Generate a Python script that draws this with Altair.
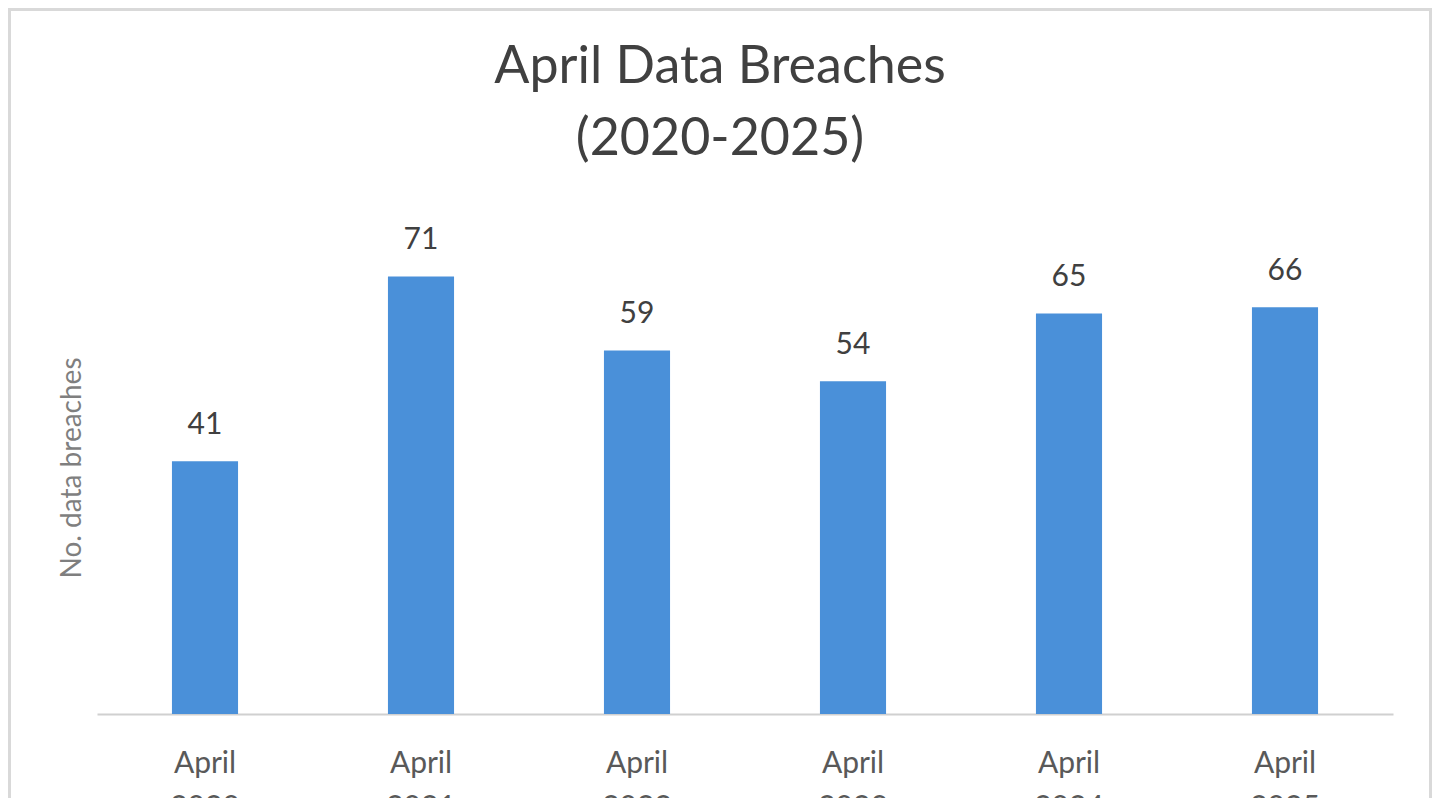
import altair as alt
import pandas as pd

categories = ["April 2020", "April 2021", "April 2022", "April 2023", "April 2024", "April 2025"]
breaches = [41, 71, 59, 54, 65, 66]

df = pd.DataFrame({"period": categories, "breaches": breaches})

FONT = "Lato"
W, H = 1296, 493
PAD = {"left": 89, "top": 213, "right": 39, "bottom": 84}

base = alt.Chart(df)

bars = base.mark_bar(color="#4A90D9").encode(
    x=alt.X(
        "period:N",
        sort=categories,
        scale=alt.Scale(paddingInner=0.694, paddingOuter=0.347),
        axis=alt.Axis(
            title=None,
            labelExpr="split(datum.label, ' ')",
            labelFont=FONT,
            labelFontSize=30,
            labelLineHeight=44,
            labelColor="#595959",
            labelBaseline="top",
            labelPadding=34,
            labelAngle=0,
            ticks=False,
            domain=True,
            domainColor="#d0d0d0",
            domainWidth=2,
            grid=False,
        ),
    ),
    y=alt.Y(
        "breaches:Q",
        scale=alt.Scale(domain=[0, 80], nice=False),
        axis=alt.Axis(
            title="No. data breaches",
            titleFont=FONT,
            titleFontSize=28,
            titleFontWeight="normal",
            titleColor="#7f7f7f",
            titleAngle=270,
            titleX=-25,
            titleY=H / 2,
            titleBaseline="middle",
            titleAlign="center",
            labels=False,
            ticks=False,
            domain=False,
            grid=False,
        ),
    ),
)

labels = base.mark_text(
    font=FONT, fontSize=30, color="#404040", baseline="alphabetic", dy=-27
).encode(
    x=alt.X("period:N", sort=categories),
    y=alt.Y("breaches:Q"),
    text=alt.Text("breaches:Q"),
)

border = alt.Chart(df).mark_rect(
    fill="transparent", stroke="#d9d9d9", strokeWidth=3
).encode(
    x=alt.value(-PAD["left"] + 1.5),
    x2=alt.value(W + PAD["right"] - 1.5),
    y=alt.value(-PAD["top"] + 1.5),
    y2=alt.value(H + PAD["bottom"] + 20),
)

chart = alt.layer(border, bars, labels).properties(
    width=W,
    height=H,
    padding=PAD,
    background="white",
    autosize=alt.AutoSizeParams(type="none"),
    title=alt.TitleParams(
        text=["April Data Breaches", "(2020-2025)"],
        font=FONT,
        fontSize=52,
        fontWeight="normal",
        color="#404040",
        lineHeight=72,
        anchor="middle",
        baseline="bottom",
        offset=-210,
        dx=-25,
    ),
).configure_view(strokeWidth=0)

chart.save("out.html", embed_options={"renderer": "svg", "actions": False})
